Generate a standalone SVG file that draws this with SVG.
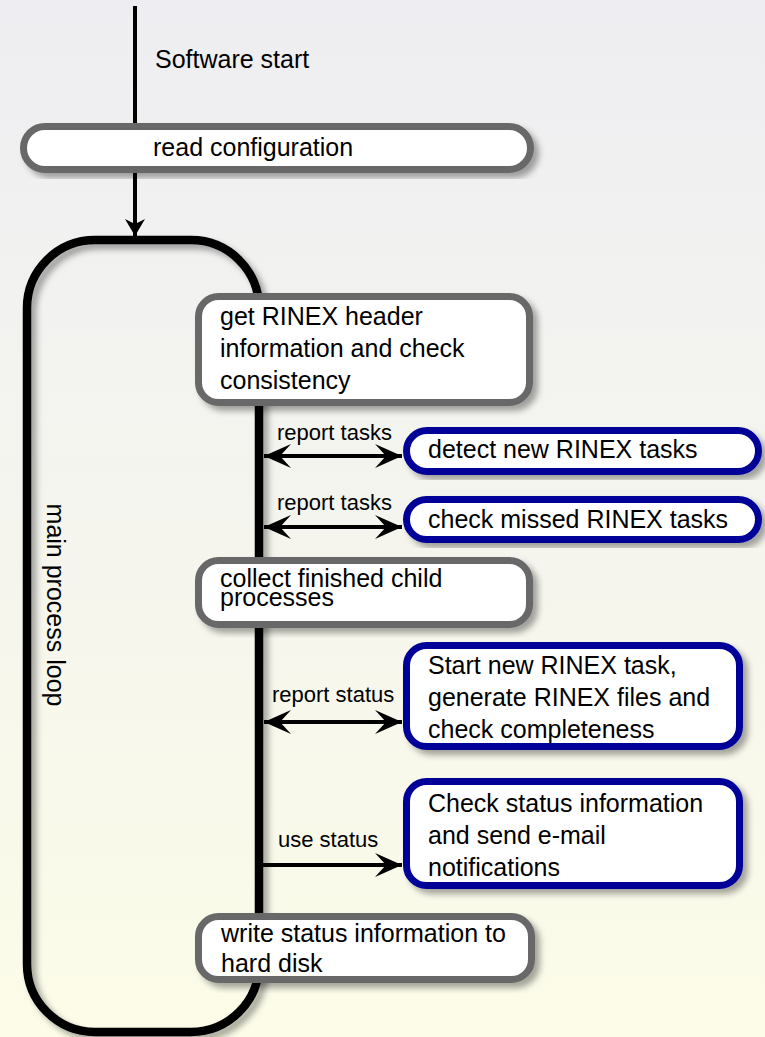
<svg xmlns="http://www.w3.org/2000/svg" width="765" height="1037" viewBox="0 0 765 1037">
  <defs>
    <linearGradient id="bg" x1="0" y1="0" x2="0" y2="1">
      <stop offset="0" stop-color="#eeeef2"/>
      <stop offset="0.45" stop-color="#f4f4ef"/>
      <stop offset="1" stop-color="#fcfce8"/>
    </linearGradient>
    <filter id="sh" x="-10%" y="-10%" width="130%" height="130%">
      <feDropShadow dx="5" dy="5" stdDeviation="3" flood-color="#000" flood-opacity="0.35"/>
    </filter>
    <marker id="head" viewBox="0 0 28 24" refX="27" refY="12" markerWidth="28" markerHeight="24" markerUnits="userSpaceOnUse" orient="auto-start-reverse">
      <path d="M27,12 L0,0 L11,12 L0,24 Z" fill="#000"/>
    </marker>
    <marker id="head2" viewBox="0 0 18 20" refX="17" refY="10" markerWidth="18" markerHeight="20" markerUnits="userSpaceOnUse" orient="auto">
      <path d="M17,10 L0,0 L5,10 L0,20 Z" fill="#000"/>
    </marker>
    <style>
      .t { font-family: "Liberation Sans", Arial, sans-serif; font-size: 25px; fill: #000; }
      .lbl { font-family: "Liberation Sans", Arial, sans-serif; font-size: 22px; fill: #000; }
      .grey { fill: #fff; stroke: #676767; stroke-width: 7; filter: url(#sh); }
      .blue { fill: #fff; stroke: #000099; stroke-width: 7; filter: url(#sh); }
      .conn { stroke: #000; stroke-width: 4; fill: none; }
    </style>
  </defs>

  <rect x="0" y="0" width="765" height="1037" fill="url(#bg)"/>

  <g id="main-loop">
    <rect x="27" y="240" width="232" height="792" rx="68" ry="68" fill="none" stroke="#000" stroke-width="8.5" filter="url(#sh)"/>
    <text class="t" transform="translate(47,605) rotate(90)" text-anchor="middle">main process loop</text>
  </g>

  <g id="connectors">
    <line class="conn" x1="135" y1="6" x2="135" y2="126" stroke-width="5"/>
    <line class="conn" x1="135" y1="172" x2="135" y2="236" stroke-width="5" marker-end="url(#head2)"/>
    <line class="conn" x1="264" y1="456" x2="402" y2="456" marker-start="url(#head)" marker-end="url(#head)"/>
    <line class="conn" x1="264" y1="527" x2="402" y2="527" marker-start="url(#head)" marker-end="url(#head)"/>
    <line class="conn" x1="264" y1="722" x2="402" y2="722" marker-start="url(#head)" marker-end="url(#head)"/>
    <line class="conn" x1="262" y1="865" x2="402" y2="865" marker-end="url(#head)"/>
    <text class="t" x="155" y="68" font-size="24">Software start</text>
    <text class="lbl" x="277" y="440">report tasks</text>
    <text class="lbl" x="277" y="510">report tasks</text>
    <text class="lbl" x="272" y="702">report status</text>
    <text class="lbl" x="278" y="847">use status</text>
  </g>

  <g id="read-configuration">
    <rect class="grey" x="23.5" y="126.5" width="507" height="43" rx="21.5"/>
    <text class="t" x="153" y="156" font-size="24">read configuration</text>
  </g>

  <g id="get-rinex-header">
    <rect class="grey" x="198.5" y="296.5" width="331" height="106" rx="20"/>
    <text class="t" x="220" y="325">get RINEX header</text>
    <text class="t" x="220" y="357">information and check</text>
    <text class="t" x="220" y="389">consistency</text>
  </g>

  <g id="detect-new-tasks">
    <rect class="blue" x="406.5" y="430.5" width="352" height="41" rx="20.5"/>
    <text class="t" x="428" y="458">detect new RINEX tasks</text>
  </g>

  <g id="check-missed-tasks">
    <rect class="blue" x="406.5" y="499.5" width="352" height="40" rx="20"/>
    <text class="t" x="428" y="528">check missed RINEX tasks</text>
  </g>

  <g id="collect-child-processes">
    <rect class="grey" x="198.5" y="560.5" width="331" height="64" rx="20"/>
    <text class="t" x="220" y="587">collect finished child</text>
    <text class="t" x="220" y="606">processes</text>
  </g>

  <g id="start-new-task">
    <rect class="blue" x="406.5" y="645.5" width="333" height="101" rx="20"/>
    <text class="t" x="428" y="674">Start new RINEX task,</text>
    <text class="t" x="428" y="706">generate RINEX files and</text>
    <text class="t" x="428" y="738">check completeness</text>
  </g>

  <g id="check-status">
    <rect class="blue" x="406.5" y="781.5" width="333" height="104" rx="20"/>
    <text class="t" x="428" y="812">Check status information</text>
    <text class="t" x="428" y="844">and send e-mail</text>
    <text class="t" x="428" y="876">notifications</text>
  </g>

  <g id="write-status">
    <rect class="grey" x="198.5" y="916.5" width="333" height="63" rx="20"/>
    <text class="t" x="221" y="942">write status information to</text>
    <text class="t" x="221" y="972">hard disk</text>
  </g>
</svg>
